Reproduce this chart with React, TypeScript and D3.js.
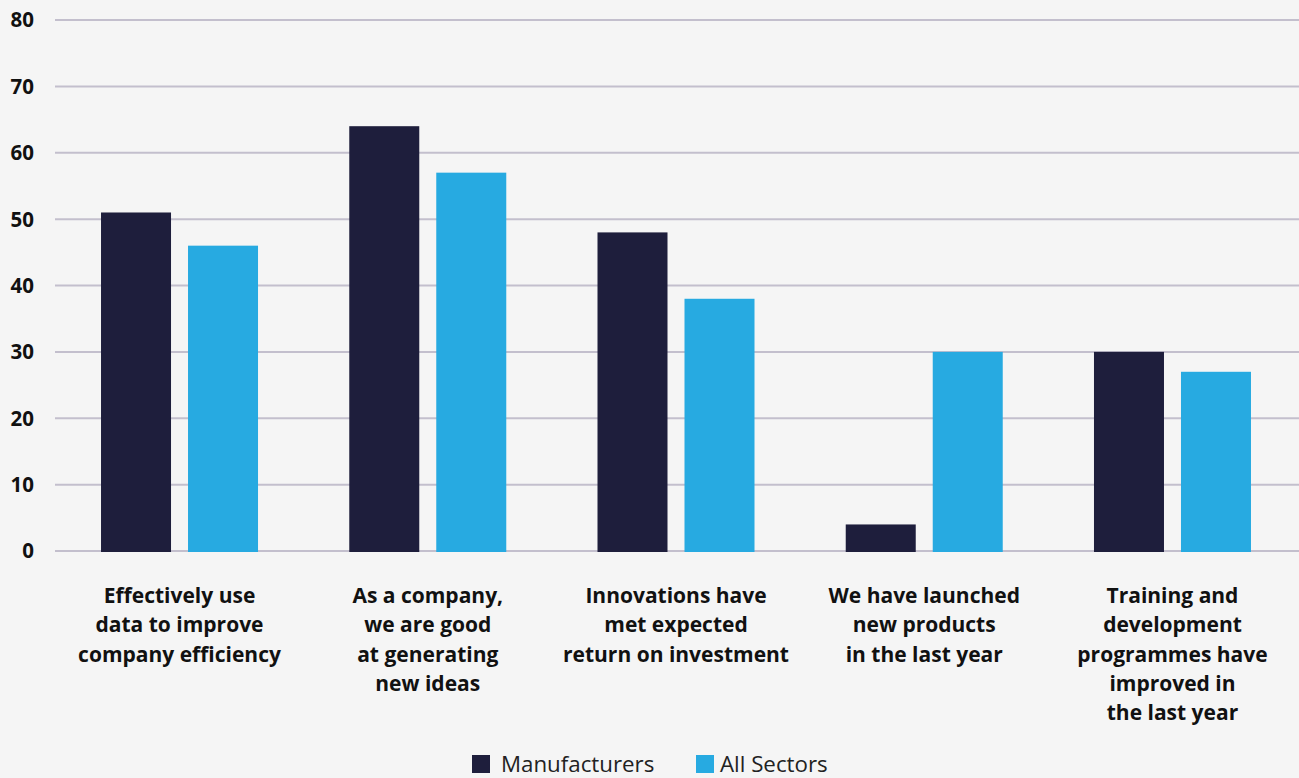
import React, { useEffect, useRef } from "react";
import * as d3 from "d3";

const categories: string[][] = [
  ["Effectively use", "data to improve", "company efficiency"],
  ["As a company,", "we are good", "at generating", "new ideas"],
  ["Innovations have", "met expected", "return on investment"],
  ["We have launched", "new products", "in the last year"],
  ["Training and", "development", "programmes have", "improved in", "the last year"],
];
const manufacturers: number[] = [51, 64, 48, 4, 30];
const allSectors: number[] = [46, 57, 38, 30, 27];
const yTicks: number[] = [0, 10, 20, 30, 40, 50, 60, 70, 80];
const seriesNames: string[] = ["Manufacturers", "All Sectors"];
const seriesColors: string[] = ["#1e1e3c", "#27aae1"];

const W = 1299;
const H = 778;

export default function App() {
  const ref = useRef<SVGSVGElement>(null);
  useEffect(() => {
    document.body.style.margin = "0";
    document.body.style.background = "#f5f5f5";
    const svg = d3.select(ref.current);
    svg.selectAll("*").remove();
    const font = "'Open Sans', Lato, sans-serif";

    svg.append("rect").attr("width", W).attr("height", H).attr("fill", "#f5f5f5");

    const y = d3.scaleLinear().domain([0, 80]).range([551, 20]);
    const x0 = d3.scaleBand<number>().domain(d3.range(categories.length)).range([55.4, 1296.6]).padding(0);
    const x1 = d3.scaleBand<number>().domain([0, 1]).range([0, 157]).paddingInner(17 / 87);

    const g = svg.append("g");
    g.selectAll("line.grid")
      .data(yTicks)
      .join("line")
      .attr("x1", 55)
      .attr("x2", W)
      .attr("y1", (d) => y(d))
      .attr("y2", (d) => y(d))
      .attr("stroke", "#c3bfcd")
      .attr("stroke-width", 2);

    g.selectAll("text.ytick")
      .data(yTicks)
      .join("text")
      .attr("x", 34)
      .attr("y", (d) => y(d))
      .attr("dy", "0.36em")
      .attr("text-anchor", "end")
      .attr("font-family", font)
      .attr("font-weight", 700)
      .attr("font-size", 20.5)
      .attr("fill", "#111")
      .text((d) => d);

    const series = [manufacturers, allSectors];
    categories.forEach((_, i) => {
      const cx = x0(i)! + x0.bandwidth() / 2;
      const gx = cx - 78.5;
      series.forEach((s, j) => {
        svg
          .append("rect")
          .attr("x", gx + x1(j)!)
          .attr("width", x1.bandwidth())
          .attr("y", y(s[i]))
          .attr("height", y(0) - y(s[i]) + 1)
          .attr("fill", seriesColors[j]);
      });
      const t = svg
        .append("text")
        .attr("text-anchor", "middle")
        .attr("font-family", font)
        .attr("font-weight", 700)
        .attr("font-size", 21)
        .attr("fill", "#111");
      categories[i].forEach((line, k) => {
        t.append("tspan")
          .attr("x", cx)
          .attr("y", 603 + k * 29.3)
          .text(line);
      });
    });

    const legendX = [472, 696];
    seriesNames.forEach((name, j) => {
      svg
        .append("rect")
        .attr("x", legendX[j])
        .attr("y", 755)
        .attr("width", 18)
        .attr("height", 18)
        .attr("fill", seriesColors[j]);
      svg
        .append("text")
        .attr("x", legendX[j] + (j === 0 ? 29 : 24))
        .attr("y", 772)
        .attr("font-family", font)
        .attr("font-size", 22.3)
        .attr("fill", "#222")
        .text(name);
    });
  }, []);
  return <svg ref={ref} width={W} height={H} style={{ display: "block" }} />;
}
